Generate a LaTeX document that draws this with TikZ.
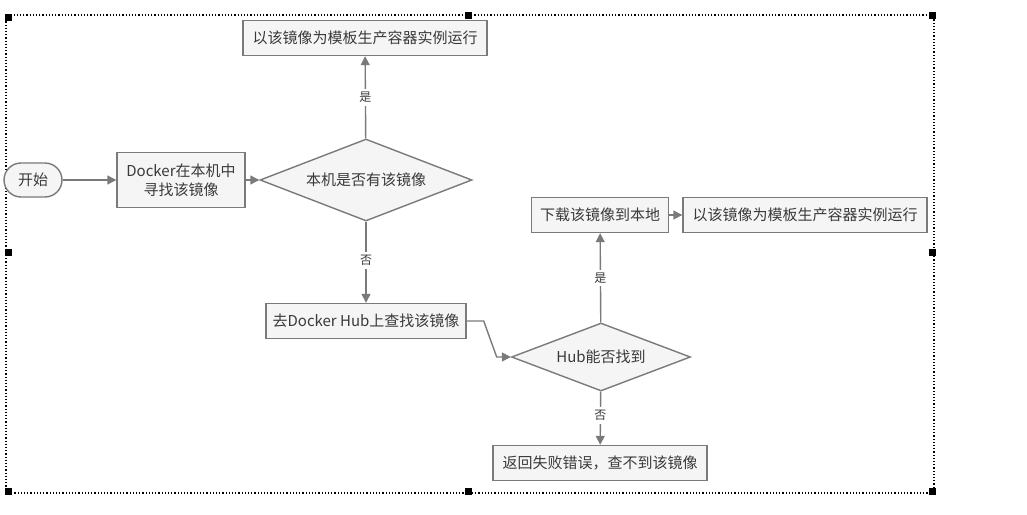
\documentclass[tikz,border=0pt]{standalone}
\usepackage{fontspec}
\setmainfont{Noto Sans CJK SC}
\usetikzlibrary{arrows.meta, positioning, shapes.geometric}
\definecolor{cline}{HTML}{7A7A7A}
\definecolor{cfill}{HTML}{F5F5F5}
\definecolor{ctext}{HTML}{3A3A3A}
\tikzset{
  every picture/.style={line width=1.4pt},
  box/.style={draw=cline, fill=cfill, text=ctext, inner sep=3pt, minimum height=35pt, align=center, font=\fontsize{15}{19}\selectfont},
  startbox/.style={box, rounded corners=17pt},
  decide/.style={diamond, aspect=2.6, draw=cline, fill=cfill, text=ctext, inner sep=0pt, font=\fontsize{15}{19}\selectfont},
  arrow/.style={-{Triangle[length=9pt, width=9pt]}, draw=cline},
  yesno/.style={fill=white, text=ctext, font=\fontsize{12}{14}\selectfont, inner sep=3pt},
  handle/.style={fill=black, draw=none},
}

\begin{document}
\begin{tikzpicture}[x=1pt, y=-1pt]
  \useasboundingbox (0,0) rectangle (1027,514);
  % selection frame
  \draw[black, line width=1.2pt, dotted] (6,15) rectangle (934,493);
  \foreach \hx/\hy in {8/17, 468/15, 932/15, 8/252, 932/252, 8/491, 468/491, 932/491}
    \fill[handle] (\hx-3.5,\hy-3.5) rectangle (\hx+3.5,\hy+3.5);

  \node[startbox, minimum width=58pt, minimum height=34pt] (start) at (33,180) {开始};
  \node[box, minimum width=128pt, minimum height=55pt] (local) at (181,180) {Docker在本机中\\寻找该镜像};
  \node[decide, minimum width=212pt, minimum height=82pt] (has) at (366,180) {本机是否有该镜像};
  \node[box, minimum width=244pt] (run1) at (365,38) {以该镜像为模板生产容器实例运行};
  \node[box, minimum width=200pt] (hub) at (366,321) {去Docker Hub上查找该镜像};
  \node[decide, minimum width=179pt, minimum height=68pt] (found) at (601,357) {Hub能否找到};
  \node[box, minimum width=137pt] (pull) at (600,215) {下载该镜像到本地};
  \node[box, minimum width=244pt] (run2) at (805,215) {以该镜像为模板生产容器实例运行};
  \node[box, minimum width=214pt] (fail) at (600,463) {返回失败错误，查不到该镜像};

  \draw[arrow] (start) -- (local);
  \draw[arrow] (local) -- (has);
  \draw[arrow] (has) -- node[yesno] {是} (run1);
  \draw[arrow] (has) -- node[yesno, pos=0.48] {否} (hub);
  \draw[arrow] (hub.east) -- ++(17,0) -- ++(13,36) -- (found.west);
  \draw[arrow] (found) -- node[yesno] {是} (pull);
  \draw[arrow] (found) -- node[yesno, pos=0.45] {否} (fail);
  \draw[arrow] (pull) -- (run2);
\end{tikzpicture}
\end{document}
